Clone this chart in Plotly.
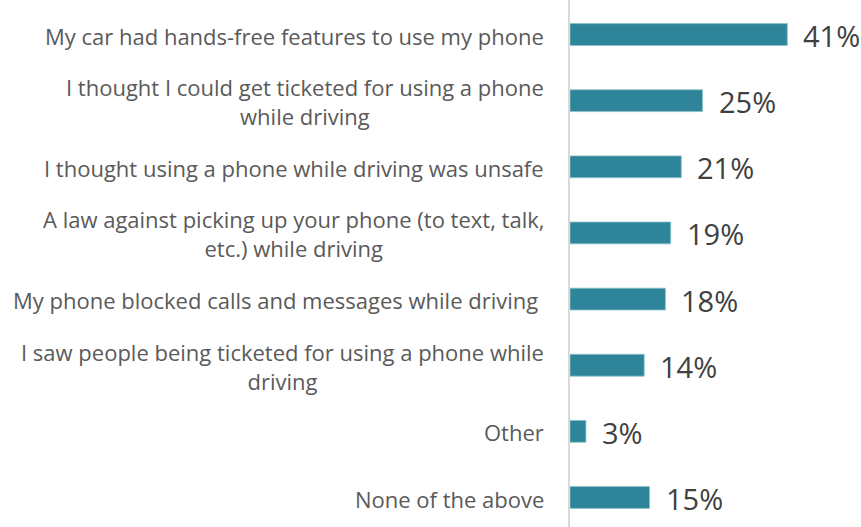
import plotly.graph_objects as go

categories = [
    "My car had hands-free features to use my phone",
    "I thought I could get ticketed for using a phone<br>while driving",
    "I thought using a phone while driving was unsafe",
    "A law against picking up your phone (to text, talk,<br>etc.) while driving",
    "My phone blocked calls and messages while driving\u00a0",
    "I saw people being ticketed for using a phone while<br>driving",
    "Other",
    "None of the above",
]
values = [41, 25, 21, 19, 18, 14, 3, 15]
value_labels = [f"{v}%" for v in values]

ids = list(range(len(categories)))

fig = go.Figure()
fig.add_trace(go.Bar(
    x=values,
    y=ids,
    orientation="h",
    width=0.33,
    marker=dict(color="#2E8498", line=dict(color="#8CC2CC", width=0.8)),
    hoverinfo="skip",
))

annotations = []
for i, (cat, v, lab) in enumerate(zip(categories, values, value_labels)):
    annotations.append(dict(
        x=0, y=i, xref="x", yref="y", text=cat, showarrow=False,
        xanchor="right", yanchor="middle", align="center", xshift=-24, yshift=-1,
        font=dict(family="Open Sans", size=22, color="#5A5A5A"),
    ))
    annotations.append(dict(
        x=v, y=i, xref="x", yref="y", text=lab, showarrow=False,
        xanchor="left", yanchor="middle", xshift=14, yshift=-1,
        font=dict(family="Open Sans", size=29, color="#404040"),
    ))

fig.update_layout(
    width=861, height=527,
    margin=dict(l=570, r=0, t=0, b=0),
    paper_bgcolor="white", plot_bgcolor="white",
    showlegend=False,
    annotations=annotations,
    xaxis=dict(range=[0, 54.9], visible=False, fixedrange=True),
    yaxis=dict(range=[7.446, -0.522], showline=True, linecolor="#D9D9D9",
               linewidth=2, showticklabels=False, showgrid=False,
               zeroline=False, ticks="", fixedrange=True),
)

fig.write_html("out.html", config={"displayModeBar": False},
               post_script="document.body.style.margin='0';")
